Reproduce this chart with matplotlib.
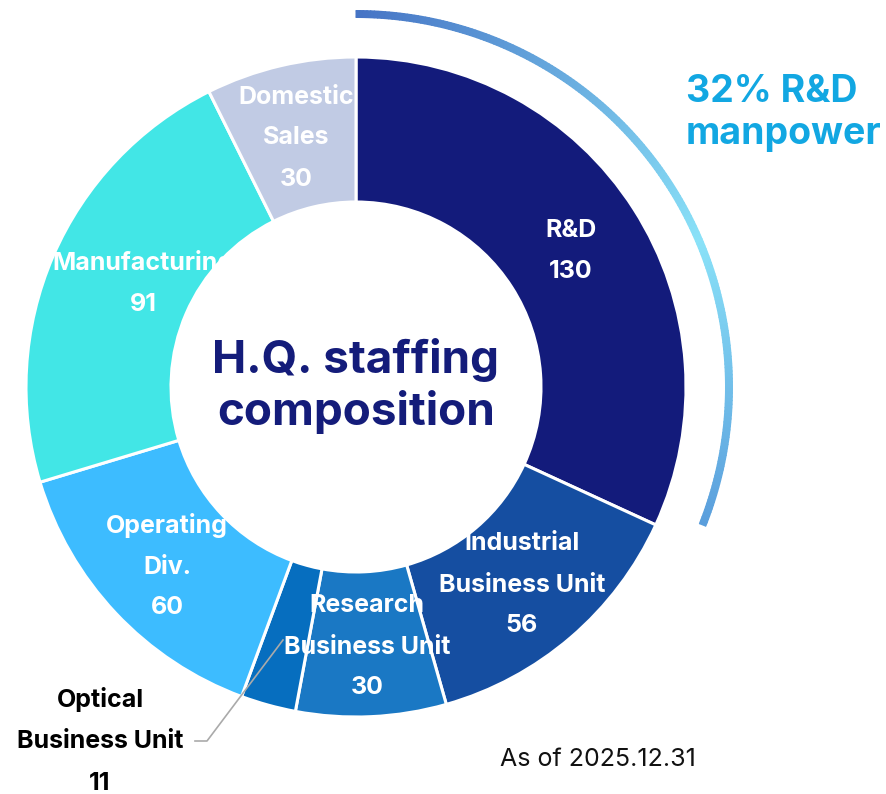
import matplotlib
matplotlib.use("Agg")
import matplotlib.pyplot as plt
from matplotlib.colors import LinearSegmentedColormap
import numpy as np

plt.rcParams['font.family'] = ['Inter', 'DejaVu Sans']

# data
units = ['R&D', 'Industrial\nBusiness Unit', 'Research\nBusiness Unit', 'Optical\nBusiness Unit',
         'Operating\nDiv.', 'Manufacturing', 'Domestic\nSales']
staff = [130, 56, 30, 11, 60, 91, 30]
colors = ['#131b7b', '#154ea1', '#1a78c4', '#066ebf', '#3dbcff', '#42e6e6', '#c1cbe4']
title = 'H.Q. staffing\ncomposition'
rd_note = '32% R&D\nmanpower'
as_of = 'As of 2025.12.31'

# label centres (pixels, top-left origin)
label_pos = [(571, 251), (522, 585), (367, 647), (100, 741), (167, 566), (143, 283), (296, 138)]

W, H = 886, 794
cx, cy = 356, 387
r_out, r_in = 330, 185

fig = plt.figure(figsize=(W / 100, H / 100), dpi=100)
ax = fig.add_axes([0, 0, 1, 1])

# y axis inverted: start at top, go clockwise on screen
ax.pie(staff, colors=colors, startangle=-90, counterclock=True, radius=r_out, center=(cx, cy),
       wedgeprops=dict(width=r_out - r_in, edgecolor='white', linewidth=2.2))
ax.set_xlim(0, W)
ax.set_ylim(H, 0)
ax.set_aspect('equal')
ax.axis('off')

# gradient arc over the R&D share
share = staff[0] / sum(staff)
theta = np.radians(np.linspace(-90, -90 + 360 * share - 3, 200))
radii = np.array([369.5, 376.5])
X = cx + radii[:, None] * np.cos(theta)[None, :]
Y = cy + radii[:, None] * np.sin(theta)[None, :]
C = np.tile(np.linspace(0, 1, len(theta)), (2, 1))
cmap = LinearSegmentedColormap.from_list('arc', [(0, '#4674c5'), (0.6, '#8ae2f8'), (1, '#5a9edc')])
ax.pcolormesh(X, Y, C, cmap=cmap, shading='gouraud')

# segment labels
for i, (name, val) in enumerate(zip(units, staff)):
    x, y = label_pos[i]
    col = 'black' if i == 3 else 'white'
    ax.text(x, y, f'{name}\n{val}', ha='center', va='center', color=col,
            fontsize=18, fontweight='bold', linespacing=2.0)

# leader line for the small slice
ax.plot([195, 207, 283], [741, 741, 640], color='#aaaaaa', lw=1.2)

ax.text(cx, 386, title, ha='center', va='center', color='#141c7a', fontsize=33,
        fontweight='bold', linespacing=1.25)
ax.text(686, 113, rd_note, ha='left', va='center', color='#12a7e2', fontsize=27,
        fontweight='bold', linespacing=1.2)
ax.text(598, 760, as_of, ha='center', va='center', color='#111111', fontsize=18)

fig.savefig('out.png', dpi=100)
